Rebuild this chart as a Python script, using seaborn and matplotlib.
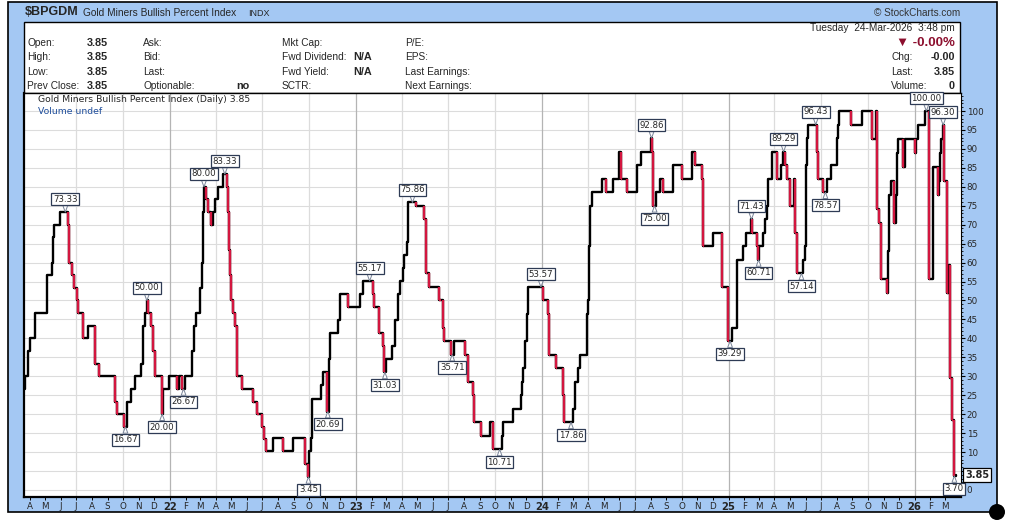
import numpy as np
import pandas as pd
import matplotlib
matplotlib.use("Agg")
import matplotlib.pyplot as plt
from matplotlib.patches import Rectangle, Circle
from matplotlib.ticker import MultipleLocator
import seaborn as sns

# --------------------------
# Data (BPI level after each change)
# --------------------------
step_dates = [
    "2021-03-21", "2021-03-23", "2021-03-28", "2021-04-01", "2021-04-11", "2021-05-05", "2021-05-14",
    "2021-05-16", "2021-05-18", "2021-05-30", "2021-06-15", "2021-06-17", "2021-06-24", "2021-06-28",
    "2021-07-02", "2021-07-04", "2021-07-14", "2021-07-24", "2021-08-07", "2021-08-16", "2021-09-15",
    "2021-09-19", "2021-10-04", "2021-10-10", "2021-10-16", "2021-10-24", "2021-11-05", "2021-11-09",
    "2021-11-13", "2021-11-17", "2021-11-19", "2021-11-25", "2021-11-29", "2021-12-03", "2021-12-16",
    "2021-12-18", "2021-12-30",
    "2022-01-16", "2022-01-20", "2022-01-24", "2022-01-30", "2022-02-13", "2022-02-17", "2022-02-21",
    "2022-03-01", "2022-03-05", "2022-03-07", "2022-03-09", "2022-03-13", "2022-03-17", "2022-03-22",
    "2022-03-26", "2022-03-30", "2022-04-05", "2022-04-15", "2022-04-23", "2022-04-25", "2022-04-27",
    "2022-04-29", "2022-05-01", "2022-05-05", "2022-05-09", "2022-05-13", "2022-05-23", "2022-06-14",
    "2022-06-22", "2022-06-30", "2022-07-04", "2022-07-08", "2022-07-22", "2022-08-11", "2022-08-30",
    "2022-09-23", "2022-09-29", "2022-10-01", "2022-10-05", "2022-10-07", "2022-10-24", "2022-10-28",
    "2022-11-05", "2022-11-09", "2022-11-11", "2022-11-26", "2022-11-30", "2022-12-16",
    "2023-01-09", "2023-01-15", "2023-02-03", "2023-02-05", "2023-02-15", "2023-02-23", "2023-02-26",
    "2023-03-01", "2023-03-12", "2023-03-18", "2023-03-24", "2023-03-28", "2023-04-03", "2023-04-05",
    "2023-04-11", "2023-04-13", "2023-04-29", "2023-05-14", "2023-05-18", "2023-05-24", "2023-06-14",
    "2023-06-20", "2023-06-22", "2023-07-06", "2023-07-12", "2023-08-03", "2023-08-09", "2023-08-18",
    "2023-08-20", "2023-09-03", "2023-09-21", "2023-09-27", "2023-10-14", "2023-10-16", "2023-11-05",
    "2023-11-21", "2023-11-23", "2023-11-25", "2023-11-29", "2023-12-03", "2023-12-05",
    "2024-01-03", "2024-01-13", "2024-01-15", "2024-01-29", "2024-02-11", "2024-02-13", "2024-03-02",
    "2024-03-06", "2024-03-12", "2024-03-16", "2024-03-30", "2024-04-01", "2024-04-03", "2024-04-05",
    "2024-04-09", "2024-04-27", "2024-05-05", "2024-05-19", "2024-05-31", "2024-06-04", "2024-06-16",
    "2024-07-05", "2024-07-13", "2024-08-02", "2024-08-04", "2024-08-06", "2024-08-12", "2024-08-20",
    "2024-08-26", "2024-09-14", "2024-10-02", "2024-10-22", "2024-10-28", "2024-11-10", "2024-11-12",
    "2024-12-02", "2024-12-20", "2024-12-31",
    "2025-01-08", "2025-01-18", "2025-01-30", "2025-02-04", "2025-02-14", "2025-02-16", "2025-02-26",
    "2025-02-28", "2025-03-02", "2025-03-10", "2025-03-14", "2025-03-18", "2025-03-20", "2025-03-28",
    "2025-04-06", "2025-04-14", "2025-04-18", "2025-04-22", "2025-04-26", "2025-05-02", "2025-05-09",
    "2025-05-11", "2025-05-15", "2025-05-27", "2025-05-31", "2025-06-02", "2025-06-04", "2025-06-06",
    "2025-06-24", "2025-06-26", "2025-07-05", "2025-07-13", "2025-07-21", "2025-08-02", "2025-08-04",
    "2025-08-06", "2025-08-30", "2025-09-20", "2025-10-09", "2025-10-17", "2025-10-20", "2025-10-23",
    "2025-10-27", "2025-11-08", "2025-11-10", "2025-11-12", "2025-11-16", "2025-11-22", "2025-11-26",
    "2025-11-28", "2025-11-30", "2025-12-09", "2025-12-13",
    "2026-01-02", "2026-01-04", "2026-01-08", "2026-01-22", "2026-01-29", "2026-02-06", "2026-02-16",
    "2026-02-18", "2026-02-20", "2026-02-22", "2026-02-25", "2026-02-27", "2026-03-05", "2026-03-09",
    "2026-03-12", "2026-03-16", "2026-03-19", "2026-03-24",
]
step_values = [
    26.67, 30.00, 36.67, 40.00, 46.67, 56.67, 60.00,
    66.67, 70.00, 73.33, 70.00, 60.00, 56.67, 53.33,
    50.00, 46.67, 40.00, 43.33, 33.33, 30.00, 23.33,
    20.00, 16.67, 23.33, 26.67, 30.00, 33.33, 43.33,
    46.67, 50.00, 46.67, 43.33, 36.67, 30.00, 20.00,
    26.67, 30.00,
    26.67, 30.00, 26.67, 30.00, 36.67, 43.33, 46.67,
    53.33, 60.00, 73.33, 80.00, 76.67, 73.33, 70.00,
    73.33, 76.67, 80.00, 83.33, 80.00, 73.33, 63.33,
    56.67, 50.00, 46.67, 43.33, 30.00, 26.67, 23.33,
    20.00, 16.67, 13.33, 10.34, 13.79, 10.34, 13.79,
    6.90, 3.45, 10.34, 13.79, 24.14, 27.59, 31.03,
    20.69, 34.48, 41.38, 44.83, 51.72, 48.28,
    51.72, 55.17, 51.72, 48.28, 41.38, 37.93, 31.03,
    34.48, 37.93, 44.83, 51.72, 55.17, 58.62, 62.07,
    65.52, 75.86, 75.00, 71.43, 57.14, 53.57, 50.00,
    42.86, 39.29, 35.71, 39.29, 35.71, 28.57, 25.00,
    17.86, 14.29, 17.86, 10.71, 14.29, 17.86, 21.43,
    25.00, 28.57, 32.14, 39.29, 46.43, 53.57,
    50.00, 46.43, 35.71, 32.14, 25.00, 17.86, 21.43,
    28.57, 32.14, 35.71, 46.43, 50.00, 64.29, 75.00,
    78.57, 82.14, 78.57, 82.14, 89.29, 82.14, 78.57,
    85.71, 89.29, 92.86, 89.29, 75.00, 78.57, 82.14,
    78.57, 85.71, 82.14, 89.29, 85.71, 82.14, 64.29,
    67.86, 53.57, 39.29,
    42.86, 60.71, 64.29, 67.86, 71.43, 67.86, 64.29,
    60.71, 64.29, 67.86, 71.43, 75.00, 82.14, 89.29,
    82.14, 85.71, 89.29, 85.71, 82.14, 75.00, 82.14,
    67.86, 57.14, 60.71, 64.29, 85.71, 92.86, 96.43,
    89.29, 82.14, 78.57, 82.14, 85.71, 92.86, 96.43,
    100.00, 96.43, 100.00, 92.59, 100.00, 74.07, 70.37,
    55.56, 51.85, 62.96, 77.78, 81.48, 70.37, 77.78,
    88.89, 92.59, 85.19, 92.59,
    88.89, 92.59, 96.30, 100.00, 55.56, 85.19, 77.78,
    81.48, 88.89, 92.59, 96.30, 81.48, 51.85, 59.26,
    29.63, 18.52, 3.70, 3.85,
]

peak_dates = ["2021-06-10", "2021-11-17", "2022-03-09", "2022-04-19", "2023-01-28", "2023-04-22",
              "2023-12-30", "2024-08-03", "2025-02-15", "2025-04-19", "2025-06-21", "2026-01-24",
              "2026-02-26"]
peak_values = [73.33, 50.00, 80.00, 83.33, 55.17, 75.86, 53.57, 92.86, 71.43, 89.29, 96.43, 100.00, 96.30]

trough_dates = ["2021-10-06", "2021-12-17", "2022-01-28", "2022-09-30", "2022-11-07", "2023-02-27",
                "2023-07-09", "2023-10-10", "2024-02-27", "2024-08-09", "2025-01-04", "2025-03-01",
                "2025-05-24", "2025-07-10", "2026-03-20"]
trough_values = [16.67, 20.00, 26.67, 3.45, 20.69, 31.03, 35.71, 10.71, 17.86, 75.00, 39.29, 60.71,
                 57.14, 78.57, 3.70]

last_value = "3.85"
quote_labels = [["Open:", "High:", "Low:", "Prev Close:"],
                ["Ask:", "Bid:", "Last:", "Optionable:"],
                ["Mkt Cap:", "Fwd Dividend:", "Fwd Yield:", "SCTR:"],
                ["P/E:", "EPS:", "Last Earnings:", "Next Earnings:"]]

# --------------------------
# Figure / page layout
# --------------------------
sns.set_theme(style="white")
plt.rcParams["font.family"] = ["Liberation Sans", "DejaVu Sans"]

W, H = 1009, 526
RED = "#d3163f"
BLUE_BG = "#a4c8f3"

fig = plt.figure(figsize=(W / 100, H / 100), dpi=100)
fig.patch.set_facecolor("white")


def fx(x, y):
    return x / W, 1 - y / H


def t(x, y, s, **kw):
    kw.setdefault("size", 7.3)
    kw.setdefault("va", "center")
    fig.text(x / W, 1 - y / H, s, **kw)


fig.add_artist(Rectangle(fx(8, 512), 989 / W, 510 / H, facecolor=BLUE_BG,
                         edgecolor="black", lw=1.2, zorder=-2))
fig.add_artist(Rectangle(fx(24, 93), 936 / W, 71 / H, facecolor="white",
                         edgecolor="black", lw=1.0, zorder=1))
fig.add_artist(Circle((997 / 100, (H - 512) / 100), 0.08, transform=fig.dpi_scale_trans,
                      facecolor="black", edgecolor="none", zorder=5))

# header
t(25, 12, "$BPGDM", size=9.0, weight="bold")
t(83, 13, "Gold Miners Bullish Percent Index", size=7.3)
t(248, 13, "INDX", size=6.5)
t(960, 13, "© StockCharts.com", size=7.2, ha="right", color="#333333")

# quote panel
rows = [43, 57, 72, 86]
for col_x, col in zip([27, 143, 282, 405], quote_labels):
    for y, s in zip(rows, col):
        t(col_x, y, s)
for y in rows:
    t(108, y, last_value, ha="right", weight="bold", size=7.8)
t(236, 86, "no", weight="bold", size=7.8)
t(353, 57, "N/A", weight="bold", size=7.8)
t(353, 72, "N/A", weight="bold", size=7.8)
t(955, 28, "Tuesday  24-Mar-2026  3:48 pm", ha="right")
t(955, 43, "▼ -0.00%", ha="right", weight="bold", size=9.5, color="#8c0f2e")
t(891, 57, "Chg:")
t(955, 57, "-0.00", ha="right", weight="bold", size=7.8)
t(891, 72, "Last:")
t(955, 72, last_value, ha="right", weight="bold", size=7.8)
t(891, 86, "Volume:")
t(955, 86, "0", ha="right", weight="bold", size=7.8)

# --------------------------
# Price panel
# --------------------------
ax = fig.add_axes([24 / W, (H - 497) / H, 937 / W, 404 / H], zorder=2)
ax.set_facecolor("white")

df = pd.DataFrame({"date": pd.to_datetime(step_dates), "bpi": step_values})
sns.lineplot(data=df, x="date", y="bpi", drawstyle="steps-post", color="black",
             lw=1.7, ax=ax, zorder=3)

dates = df["date"].to_numpy()
vals = df["bpi"].to_numpy()
down = np.where(np.diff(vals) < 0)[0] + 1
ax.vlines(dates[down], vals[down], vals[down - 1], color=RED, lw=1.7, zorder=4)
ax.hlines(vals[down], dates[down], dates[down] + np.timedelta64(2, "D"), color=RED, lw=1.7, zorder=4)

ax.set_xlim(pd.Timestamp("2021-03-21"), pd.Timestamp("2026-04-02"))
ax.set_ylim(-1.85, 104.75)
ax.set_xlabel("")
ax.set_ylabel("")

# grid
ytick_vals = np.arange(0, 101, 5)
ax.set_yticks(ytick_vals)
# the "5" label sits under the last-value tag, as on the site
ax.set_yticklabels(["" if v == 5 else str(v) for v in ytick_vals])
ax.grid(axis="y", which="major", color="#dcdcdc", lw=0.8, zorder=0)
for d in pd.date_range("2021-07-01", "2026-01-01", freq="QS"):
    ax.axvline(d, color="#b4b4b4" if d.month == 1 else "#dcdcdc", lw=0.9, zorder=1)

# axes ticks
ax.yaxis.tick_right()
ax.yaxis.set_minor_locator(MultipleLocator(1))
ax.tick_params(axis="y", which="major", right=True, left=False, length=3, width=0.8,
               pad=1, labelsize=6.3, color="black", direction="out")
ax.tick_params(axis="y", which="minor", right=True, left=False, length=1.5, width=0.6,
               color="black", direction="out")
for lbl in ax.get_yticklabels():
    lbl.set_fontfamily("DejaVu Sans")

month_starts = pd.date_range("2021-04-01", "2026-03-01", freq="MS")
month_labels = [f"{d:%y}" if d.month == 1 else f"{d:%b}"[0] for d in month_starts]
ax.set_xticks(month_starts)
ax.set_xticklabels(month_labels)
ax.tick_params(axis="x", bottom=True, length=2, width=0.7, pad=1.5, labelsize=6.3,
               color="black", direction="out")
for lbl in ax.get_xticklabels():
    lbl.set_fontfamily("DejaVu Sans")
    if lbl.get_text().isdigit():
        lbl.set_fontweight("bold")
        lbl.set_fontsize(7.2)

for side, w in [("left", 1.6), ("bottom", 1.6), ("top", 1.0), ("right", 0.8)]:
    ax.spines[side].set_visible(True)
    ax.spines[side].set_color("black")
    ax.spines[side].set_linewidth(w)

# panel captions
t(38, 100, "Gold Miners Bullish Percent Index (Daily) 3.85", size=6.7, family="DejaVu Sans", zorder=6)
t(38, 111, "Volume undef", size=6.7, family="DejaVu Sans", color="#1f4e9c", zorder=6)

# peak / trough callouts
box = dict(boxstyle="square,pad=0.18", fc="white", ec="#2e3b55", lw=0.9)
arrow = dict(arrowstyle="wedge,tail_width=0.55", fc="white", ec="#7a8599", lw=0.7,
             shrinkA=0, shrinkB=0)
for d, v in zip(peak_dates, peak_values):
    ax.annotate(f"{v:.2f}", xy=(pd.Timestamp(d), v), xytext=(0, 6), textcoords="offset points",
                ha="center", va="bottom", fontsize=6.2, family="DejaVu Sans",
                bbox=box, arrowprops=arrow, zorder=6)
for d, v in zip(trough_dates, trough_values):
    ax.annotate(f"{v:.2f}", xy=(pd.Timestamp(d), v), xytext=(0, -6), textcoords="offset points",
                ha="center", va="top", fontsize=6.2, family="DejaVu Sans",
                bbox=box, arrowprops=arrow, zorder=6, annotation_clip=False)

# last value tag on the right axis
ax.annotate(last_value, xy=(1.0, float(last_value)), xycoords=("axes fraction", "data"),
            xytext=(3, 0), textcoords="offset points", ha="left", va="center",
            fontsize=7, weight="bold", family="DejaVu Sans",
            bbox=dict(boxstyle="square,pad=0.2", fc="white", ec="black", lw=0.9),
            annotation_clip=False, zorder=7)

fig.savefig("out.png", dpi=100, facecolor=fig.get_facecolor())
